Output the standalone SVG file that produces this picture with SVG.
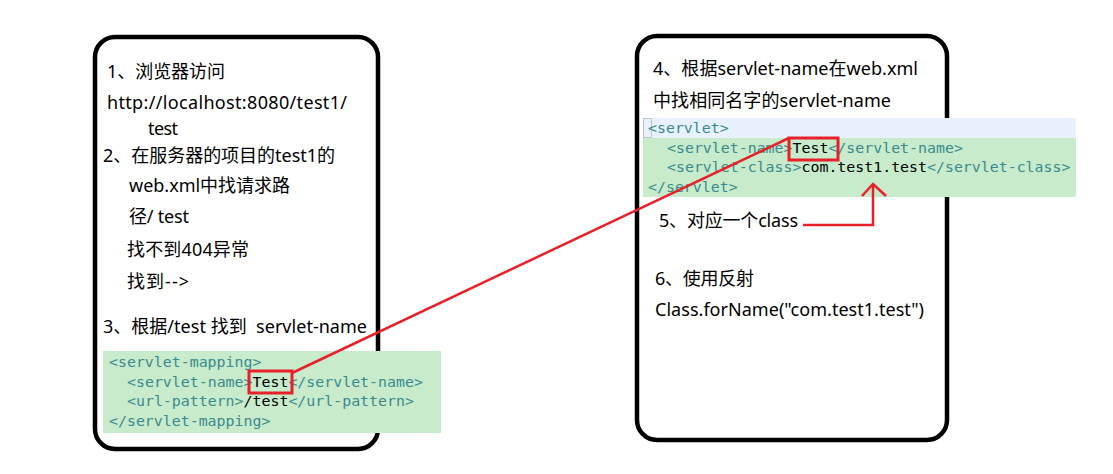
<svg xmlns="http://www.w3.org/2000/svg" width="1113" height="474" viewBox="0 0 1113 474">
<style>
.box{fill:#fff;stroke:#000;stroke-width:4.5}
.t{font-family:"Noto Sans","Noto Sans CJK SC",sans-serif;font-size:18px;fill:#000}
.c{font-family:"DejaVu Sans Mono","Liberation Mono",monospace;font-size:14.9px;fill:#3a8a8f}
.v{fill:#000}
.g{fill:#c7ebcb}
.hl{fill:none;stroke:#e8202a;stroke-width:3}
.red{fill:none;stroke:#e8202a;stroke-width:2.5}
</style>
<rect width="1113" height="474" fill="#fff"/>
<g id="left-box">
<rect class="box" x="95" y="37" width="283" height="412" rx="20"/>
<text class="t" x="107" y="78" textLength="118">1、浏览器访问</text>
<text class="t" x="107" y="109" textLength="240">http://localhost:8080/test1/</text>
<text class="t" x="148" y="135" textLength="30">test</text>
<text class="t" x="103" y="162" textLength="232">2、在服务器的项目的test1的</text>
<text class="t" x="129" y="192" textLength="161">web.xml中找请求路</text>
<text class="t" x="129" y="223" textLength="60">径/ test</text>
<text class="t" x="127" y="256" textLength="122">找不到404异常</text>
<text class="t" x="127" y="288" textLength="62">找到--&gt;</text>
<text class="t" x="103" y="333" textLength="264" xml:space="preserve">3、根据/test 找到  servlet-name</text>
</g>
<g id="left-code">
<rect class="g" x="103" y="351" width="338" height="82"/>
<text class="c" x="109" y="367">&lt;servlet-mapping&gt;</text>
<text class="c" x="127" y="387">&lt;servlet-name&gt;<tspan class="v">Test</tspan>&lt;/servlet-name&gt;</text>
<text class="c" x="127" y="406">&lt;url-pattern&gt;<tspan class="v">/test</tspan>&lt;/url-pattern&gt;</text>
<text class="c" x="109" y="426">&lt;/servlet-mapping&gt;</text>
<rect class="hl" x="249" y="371" width="43" height="22"/>
</g>
<g id="right-box">
<rect class="box" x="637" y="36" width="310" height="404" rx="20"/>
<text class="t" x="653" y="75" textLength="265">4、根据servlet-name在web.xml</text>
<text class="t" x="653" y="107" textLength="238">中找相同名字的servlet-name</text>
<text class="t" x="659" y="227" textLength="139">5、对应一个class</text>
<text class="t" x="655" y="285" textLength="99">6、使用反射</text>
<text class="t" x="655" y="316" textLength="269">Class.forName("com.test1.test")</text>
</g>
<g id="right-code">
<rect x="643" y="118" width="433" height="20" fill="#e8f2fe"/>
<rect class="g" x="643" y="138" width="433" height="59"/>
<rect x="643.5" y="118.5" width="8" height="19" fill="none" stroke="#c0c0c0" stroke-width="1"/>
<text class="c" x="648" y="133">&lt;servlet&gt;</text>
<text class="c" x="667" y="153">&lt;servlet-name&gt;<tspan class="v">Test</tspan>&lt;/servlet-name&gt;</text>
<text class="c" x="667" y="172">&lt;servlet-class&gt;<tspan class="v">com.test1.test</tspan>&lt;/servlet-class&gt;</text>
<text class="c" x="648" y="192">&lt;/servlet&gt;</text>
<rect class="hl" x="789" y="138" width="49" height="22"/>
</g>
<g id="connectors">
<line class="red" x1="292" y1="373" x2="789" y2="138"/>
<polyline class="red" stroke-width="3" points="803,225 873,225 873,185"/>
<polyline class="red" stroke-width="3" points="862,196 873,184 886,196"/>
</g>
</svg>
